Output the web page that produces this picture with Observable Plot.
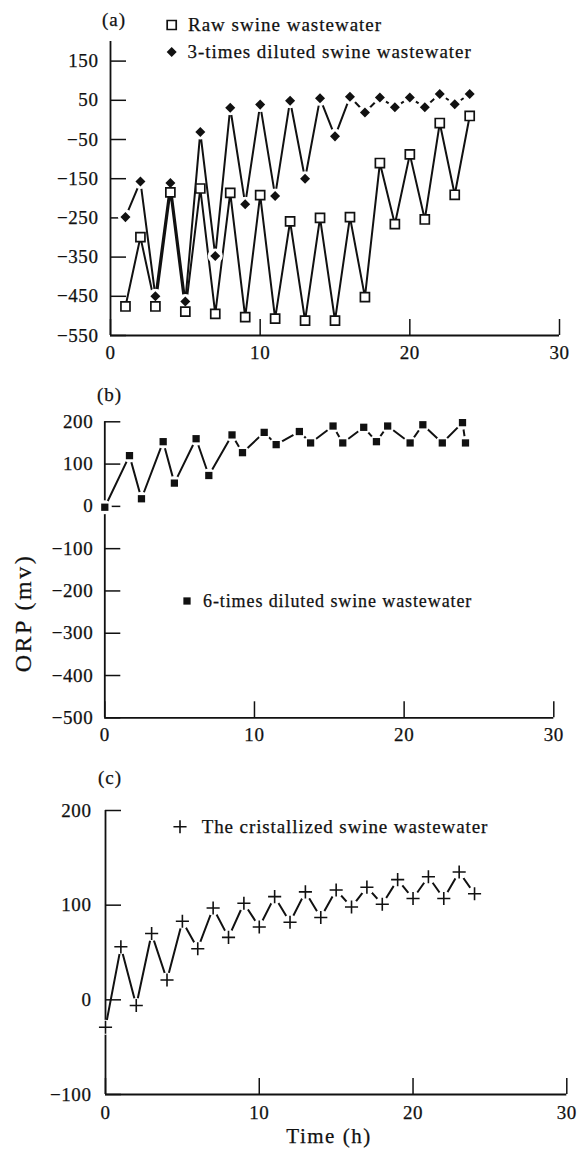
<!DOCTYPE html>
<html><head><meta charset="utf-8">
<script src="https://cdn.jsdelivr.net/npm/d3@7"></script>
<script src="https://cdn.jsdelivr.net/npm/@observablehq/plot@0.6"></script>
<style>
body{margin:0;background:#fff;}
#wrap{position:relative;width:582px;height:1157px;overflow:hidden;background:#fff;}
#wrap > svg{position:absolute;left:0;}
#wrap text{stroke:#111;stroke-width:0.25px;}
</style></head><body><div id="wrap"></div>
<script>
// ---------- shared ----------
const xDomain = [0, 30];
const xTicks = [0, 10, 20, 30];

// ---------- panel (a) ----------
const timeA = [1,2,3,4,5,6,7,8,9,10,11,12,13,14,15,16,17,18,19,20,21,22,23,24];
const rawSwine = [-476,-299,-476,-185,-489,-175,-495,-186,-503,-192,-507,-259,-512,-250,-512,-248,-452,-110,-266,-88,-254,-8,-191,10];
const diluted3 = [-248,-157,-450,-161,-463,-31,-347,31,-215,39,-194,49,-150,55,-42,59,19,57,32,57,32,66,40,66];
const yDomainA = [-550, 200];
const yTicksA = [150, 50, -50, -150, -250, -350, -450, -550];

// ---------- panel (b) ----------
const timeB = [0,1.65,2.45,3.9,4.65,6.1,6.95,8.5,9.2,10.65,11.45,13,13.75,15.25,15.9,17.3,18.15,18.9,20.4,21.25,22.55,23.9,24.1];
const diluted6 = [-2,120,18,153,55,160,73,169,127,175,146,177,150,190,150,187,153,190,150,193,150,198,150];
const yDomainB = [-500, 200];
const yTicksB = [200, 100, 0, -100, -200, -300, -400, -500];

// ---------- panel (c) ----------
const timeC = [0,1,2,3,4,5,6,7,8,9,10,11,12,13,14,15,16,17,18,19,20,21,22,23,24];
const cristallized = [-29,56,-6,70,21,83,54,97,66,102,77,109,82,114,87,116,98,119,101,127,107,130,107,135,112];
const yDomainC = [-100, 200];
const yTicksC = [200, 100, 0, -100];

// ---------- texts ----------
const labelA = "(a)", labelB = "(b)", labelC = "(c)";
const legendRaw = "Raw swine wastewater";
const legend3 = "3-times diluted swine wastewater";
const legend6 = "6-times diluted swine wastewater";
const legendC = "The cristallized swine wastewater";
const yTitle = "ORP (mv)";
const xTitle = "Time (h)";

const INK = "#111";
const SERIF = '"Liberation Serif", "DejaVu Serif", serif';
const table = (xs, ys) => xs.map((t, i) => ({t, v: ys[i]}));

function panel({top, height, mt, mb, ml, mr, yDomain, yTicks, xPad, yPad, marks}) {
  const svg = Plot.plot({
    width: 582, height,
    marginTop: mt, marginBottom: mb, marginLeft: ml, marginRight: mr,
    style: {fontFamily: SERIF, fontSize: "19px", color: INK, background: "transparent", overflow: "visible"},
    x: {domain: xDomain},
    y: {domain: yDomain},
    marks: [
      Plot.ruleX([xDomain[0]], {stroke: INK, strokeWidth: 1.8}),
      Plot.ruleY([yDomain[0]], {stroke: INK, strokeWidth: 1.8}),
      Plot.axisY({ticks: yTicks, tickSize: -16, tickPadding: 16 + yPad, fontSize: 19, label: null, stroke: INK, strokeWidth: 1.5, fill: INK}),
      Plot.axisX({ticks: xTicks, tickSize: -16, tickPadding: 16 + xPad, fontSize: 19, label: null, stroke: INK, strokeWidth: 1.5, fill: INK}),
      ...marks
    ]
  });
  svg.style.top = top + "px";
  svg.style.letterSpacing = "0.6px";
  return svg;
}

const wrap = document.getElementById("wrap");

// (a)
const dataRaw = table(timeA, rawSwine);
const data3 = table(timeA, diluted3);
wrap.appendChild(panel({
  top: 0, height: 370, mt: 41, mb: 35, ml: 110, mr: 23,
  yDomain: yDomainA, yTicks: yTicksA, xPad: 9.5, yPad: 12,
  marks: [
    Plot.line(dataRaw, {x: "t", y: "v", stroke: INK, strokeWidth: 2}),
    Plot.line(data3, {x: "t", y: "v", stroke: INK, strokeWidth: 2}),
    Plot.dot(data3, {x: "t", y: "v", r: 7.5, fill: "white", stroke: "none"}),
    Plot.dot(dataRaw, {x: "t", y: "v", symbol: "square", r: 5.1, fill: "white", stroke: INK, strokeWidth: 1.7}),
    Plot.dot(data3, {x: "t", y: "v", symbol: "square", rotate: 45, r: 4, fill: INK, stroke: "none"})
  ]
}));

// (b)
const data6 = table(timeB, diluted6);
wrap.appendChild(panel({
  top: 380, height: 370, mt: 41.3, mb: 32.7, ml: 104.3, mr: 28.7,
  yDomain: yDomainB, yTicks: yTicksB, xPad: 10, yPad: 11.5,
  marks: [
    Plot.line(data6, {x: "t", y: "v", stroke: INK, strokeWidth: 2}),
    Plot.dot(data6, {x: "t", y: "v", r: 7, fill: "white", stroke: "none"}),
    Plot.dot(data6, {x: "t", y: "v", symbol: "square", r: 4.1, fill: INK, stroke: "none"})
  ]
}));

// (c)
const dataC = table(timeC, cristallized);
wrap.appendChild(panel({
  top: 770, height: 387, mt: 40, mb: 63, ml: 105, mr: 15.7,
  yDomain: yDomainC, yTicks: yTicksC, xPad: 11, yPad: 14,
  marks: [
    Plot.line(dataC, {x: "t", y: "v", stroke: INK, strokeWidth: 2}),
    Plot.dot(dataC, {x: "t", y: "v", r: 7.5, fill: "white", stroke: "none"}),
    Plot.dot(dataC, {x: "t", y: "v", symbol: "plus", r: 4.3, fill: "none", stroke: INK, strokeWidth: 1.6})
  ]
}));

// ---------- annotation overlay (panel labels, legends, axis titles) ----------
const ov = d3.select(wrap).append("svg")
  .attr("width", 582).attr("height", 1157)
  .style("top", "0px")
  .style("font-family", SERIF)
  .style("fill", INK);

function txt(x, y, s, size, ls, anchor = "start") {
  return ov.append("text").attr("x", x).attr("y", y).attr("text-anchor", anchor)
    .style("font-size", size + "px").style("letter-spacing", ls + "px").text(s);
}
function sym(x, y, type, r, opts) {
  return ov.append("path")
    .attr("d", d3.symbol(type, Math.PI * r * r)())
    .attr("transform", `translate(${x},${y})` + (opts.rotate ? ` rotate(${opts.rotate})` : ""))
    .attr("fill", opts.fill).attr("stroke", opts.stroke || "none").attr("stroke-width", opts.sw || 0);
}

txt(102, 26, labelA, 19, 1);
sym(171.7, 25, d3.symbolSquare, 5.1, {fill: "white", stroke: INK, sw: 1.7});
txt(188, 31, legendRaw, 19, 1);
sym(171.7, 52, d3.symbolSquare, 4, {fill: INK, rotate: 45});
txt(187.5, 58, legend3, 19, 0.95);

txt(97, 401, labelB, 19, 1);
sym(187, 601, d3.symbolSquare, 4.1, {fill: INK});
txt(203, 607, legend6, 18, 0.9);

txt(98, 784, labelC, 19, 1);
sym(180, 826.7, d3.symbolPlus, 4.3, {fill: "none", stroke: INK, sw: 1.6});
txt(201.7, 833, legendC, 19, 0.9);

ov.append("text").attr("transform", "translate(31,613) rotate(-90)")
  .attr("text-anchor", "middle").style("font-size", "24px").style("letter-spacing", "2.5px").text(yTitle);
txt(329, 1143, xTitle, 21, 1.5, "middle");
</script></body></html>
